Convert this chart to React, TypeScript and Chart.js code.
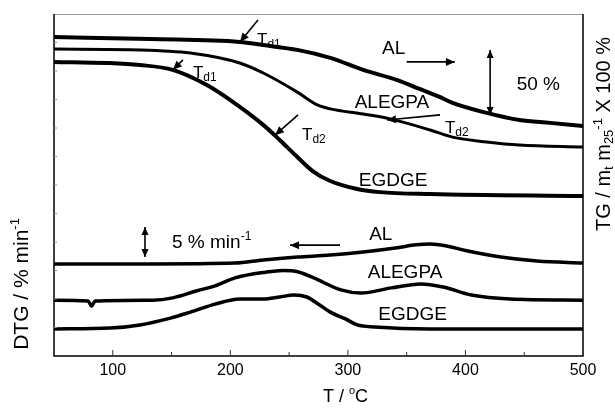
import React, { useEffect, useRef } from "react";
import { Chart, registerables } from "chart.js";
Chart.register(...registerables);

// ---- Data (T in °C, y in arbitrary stacked plot units) ----
const T_AL_TG = [50, 132, 208, 228, 257, 285, 313, 342, 361, 378, 389, 418, 446, 472, 500];
const Y_AL_TG = [11.19, 11.12, 11.02, 10.91, 10.74, 10.46, 10.04, 9.68, 9.37, 9.09, 8.88, 8.53, 8.28, 8.18, 8.07];

const T_ALEGPA_TG = [50, 124, 166, 208, 228, 257, 274, 285, 313, 336, 370, 389, 418, 446, 500];
const Y_ALEGPA_TG = [10.77, 10.74, 10.63, 10.28, 9.93, 9.26, 8.81, 8.67, 8.49, 8.32, 7.93, 7.68, 7.51, 7.40, 7.33];

const T_EGDGE_TG = [50, 95, 123, 151, 180, 200, 228, 242, 257, 270, 285, 308, 327, 370, 500];
const Y_EGDGE_TG = [10.32, 10.28, 10.21, 10.04, 9.51, 8.98, 8.11, 7.58, 6.98, 6.49, 6.14, 5.86, 5.75, 5.68, 5.61];

const T_AL_DTG = [50, 132, 204, 228, 257, 285, 313, 342, 358, 370, 383, 400, 430, 461, 500];
const Y_AL_DTG = [3.23, 3.23, 3.26, 3.37, 3.47, 3.54, 3.65, 3.8, 3.9, 3.93, 3.87, 3.7, 3.47, 3.33, 3.26];

const T_ALEGPA_DTG = [50, 79, 82, 85, 134, 151, 171, 187, 204, 230, 245, 258, 271, 294, 311, 337, 362, 381, 405, 438, 500];
const Y_ALEGPA_DTG = [1.96, 1.93, 1.75, 1.93, 1.96, 2.04, 2.28, 2.46, 2.74, 2.94, 3.0, 2.95, 2.74, 2.32, 2.21, 2.39, 2.53, 2.42, 2.14, 2.0, 1.96];

const T_EGDGE_DTG = [50, 98, 123, 149, 166, 187, 208, 228, 242, 254, 265, 276, 285, 298, 308, 323, 370, 500];
const Y_EGDGE_DTG = [0.95, 0.98, 1.09, 1.33, 1.54, 1.82, 2.0, 2.0, 2.07, 2.14, 2.07, 1.79, 1.54, 1.3, 1.09, 1.02, 0.95, 0.95];

const X_TICKS = [100, 200, 300, 400, 500];
const X_MINOR = [150, 250, 350, 450];
const Y_MINOR = [1, 2, 3, 4, 5, 6, 7, 8, 9, 10, 11];

const SERIES_NAMES = ["AL", "ALEGPA", "EGDGE"];

// ---- Annotation placement (data coordinates) ----
const NAME_LABELS = [
  { text: SERIES_NAMES[0], T: 339, v: 10.77 },
  { text: SERIES_NAMES[1], T: 337.5, v: 8.88 },
  { text: SERIES_NAMES[2], T: 338.4, v: 6.14 },
  { text: SERIES_NAMES[0], T: 328, v: 4.25 },
  { text: SERIES_NAMES[1], T: 348.6, v: 2.91 },
  { text: SERIES_NAMES[2], T: 355, v: 1.44 },
  { text: "50 %", T: 462, v: 9.51 },
];
const TD_LABELS = [
  { sub: "d1", T: 222.7, v: 10.91 },
  { sub: "d1", T: 168.2, v: 9.75 },
  { sub: "d2", T: 261, v: 7.58 },
  { sub: "d2", T: 382.6, v: 7.82 },
];
const ARROWS = [
  { a: [223.5, 11.79], b: [208.2, 11.02] },
  { a: [159.7, 10.39], b: [151.2, 10.04] },
  { a: [257.6, 8.46], b: [238, 7.75] },
  { a: [378.4, 8.46], b: [333.3, 8.28] },
  { a: [350, 10.32], b: [391, 10.32] },
  { a: [293.3, 3.89], b: [250.8, 3.89] },
];
const DOUBLE_ARROWS = [
  { T: 421, v1: 10.74, v2: 8.46 },
  { T: 127.4, v1: 4.53, v2: 3.47 },
];
const RATE_LABEL = { T: 150.4, v: 3.96 };

const FONT = '"Liberation Sans", Arial, Helvetica, sans-serif';
const f = (s: number) => `${s}px ${FONT}`;

type Seg = { t: string; size: number; dy?: number };
function drawRich(ctx: CanvasRenderingContext2D, segs: Seg[], x: number, y: number, center: boolean) {
  let w = 0;
  for (const s of segs) {
    ctx.font = f(s.size);
    w += ctx.measureText(s.t).width;
  }
  let cx = center ? x - w / 2 : x;
  ctx.textAlign = "left";
  for (const s of segs) {
    ctx.font = f(s.size);
    ctx.fillText(s.t, cx, y + (s.dy || 0));
    cx += ctx.measureText(s.t).width;
  }
}

function head(ctx: CanvasRenderingContext2D, x1: number, y1: number, x2: number, y2: number, len = 8, wid = 3.5) {
  const ang = Math.atan2(y2 - y1, x2 - x1);
  ctx.beginPath();
  ctx.moveTo(x2, y2);
  ctx.lineTo(x2 - len * Math.cos(ang) + wid * Math.sin(ang), y2 - len * Math.sin(ang) - wid * Math.cos(ang));
  ctx.lineTo(x2 - len * Math.cos(ang) - wid * Math.sin(ang), y2 - len * Math.sin(ang) + wid * Math.cos(ang));
  ctx.closePath();
  ctx.fill();
}

const decorPlugin = {
  id: "decor",
  afterDraw(chart: any) {
    const { ctx, chartArea: ca, scales } = chart;
    const xs = scales.x;
    const ys = scales.y;
    const px = (T: number) => xs.getPixelForValue(T);
    const py = (v: number) => ys.getPixelForValue(v);
    ctx.save();
    ctx.fillStyle = "#000";
    ctx.strokeStyle = "#000";

    // frame
    ctx.lineWidth = 1;
    ctx.strokeStyle = "#9a9a9a";
    ctx.beginPath();
    ctx.moveTo(ca.left, ca.top + 0.5);
    ctx.lineTo(ca.right, ca.top + 0.5);
    ctx.stroke();
    ctx.strokeStyle = "#000";
    ctx.lineWidth = 1.5;
    ctx.beginPath();
    ctx.moveTo(ca.left, ca.top);
    ctx.lineTo(ca.left, ca.bottom);
    ctx.lineTo(ca.right, ca.bottom);
    ctx.lineTo(ca.right, ca.top);
    ctx.stroke();

    // ticks
    ctx.lineWidth = 1;
    ctx.strokeStyle = "#333";
    ctx.beginPath();
    for (const t of X_TICKS) {
      ctx.moveTo(px(t), ca.bottom);
      ctx.lineTo(px(t), ca.bottom - 6);
    }
    for (const t of X_MINOR) {
      ctx.moveTo(px(t), ca.bottom);
      ctx.lineTo(px(t), ca.bottom - 4);
    }
    ctx.stroke();
    ctx.strokeStyle = "#888";
    ctx.beginPath();
    for (const v of Y_MINOR) {
      ctx.moveTo(ca.left, py(v));
      ctx.lineTo(ca.left + 3, py(v));
    }
    ctx.stroke();

    // series labels
    ctx.fillStyle = "#000";
    ctx.textBaseline = "middle";
    ctx.textAlign = "center";
    ctx.font = f(19);
    for (const l of NAME_LABELS) {
      ctx.fillText(l.text, px(l.T), py(l.v));
    }
    drawRich(ctx, [{ t: "5 % min", size: 19 }, { t: "-1", size: 12, dy: -6 }], px(RATE_LABEL.T), py(RATE_LABEL.v), false);

    // Td labels
    ctx.textBaseline = "alphabetic";
    for (const l of TD_LABELS) {
      drawRich(ctx, [{ t: "T", size: 17 }, { t: l.sub, size: 12, dy: 3 }], px(l.T), py(l.v), false);
    }

    // arrows
    ctx.lineWidth = 1.6;
    ctx.strokeStyle = "#000";
    for (const a of ARROWS) {
      const x1 = px(a.a[0]), y1 = py(a.a[1]), x2 = px(a.b[0]), y2 = py(a.b[1]);
      ctx.beginPath();
      ctx.moveTo(x1, y1);
      ctx.lineTo(x2, y2);
      ctx.stroke();
      head(ctx, x1, y1, x2, y2, 9, 4);
    }
    for (const d of DOUBLE_ARROWS) {
      const x = px(d.T), y1 = py(d.v1), y2 = py(d.v2);
      ctx.beginPath();
      ctx.moveTo(x, y1);
      ctx.lineTo(x, y2);
      ctx.stroke();
      head(ctx, x, y2, x, y1, 8, 3.5);
      head(ctx, x, y1, x, y2, 8, 3.5);
    }

    // axis titles
    ctx.textBaseline = "middle";
    drawRich(ctx, [{ t: "T / ", size: 18 }, { t: "o", size: 11, dy: -6 }, { t: "C", size: 18 }], px(298), 397, true);

    ctx.save();
    ctx.translate(22, 284);
    ctx.rotate(-Math.PI / 2);
    drawRich(ctx, [{ t: "DTG / % min", size: 21 }, { t: "-1", size: 13, dy: -7 }], 0, 0, true);
    ctx.restore();

    ctx.save();
    ctx.translate(604, 134);
    ctx.rotate(-Math.PI / 2);
    drawRich(
      ctx,
      [
        { t: "TG / m", size: 20 },
        { t: "t", size: 13, dy: 5 },
        { t: " m", size: 20 },
        { t: "25", size: 13, dy: 5 },
        { t: "-1", size: 13, dy: -6 },
        { t: " X 100 %", size: 20 },
      ],
      0,
      0,
      true
    );
    ctx.restore();

    ctx.restore();
  },
};

function toPts(xs: number[], ys: number[]) {
  return xs.map((x, i) => ({ x, y: ys[i] }));
}

export default function App() {
  const ref = useRef<HTMLCanvasElement | null>(null);
  useEffect(() => {
    if (!ref.current) return;
    const mk = (xs: number[], ys: number[], w: number) => ({
      data: toPts(xs, ys),
      borderColor: "#000",
      borderWidth: w,
      pointRadius: 0,
      fill: false,
      cubicInterpolationMode: "monotone" as const,
      borderCapStyle: "round" as const,
      borderJoinStyle: "round" as const,
    });
    const chart = new Chart(ref.current, {
      type: "line",
      data: {
        datasets: [
          mk(T_AL_TG, Y_AL_TG, 4),
          mk(T_ALEGPA_TG, Y_ALEGPA_TG, 3),
          mk(T_EGDGE_TG, Y_EGDGE_TG, 4),
          mk(T_AL_DTG, Y_AL_DTG, 3.5),
          mk(T_ALEGPA_DTG, Y_ALEGPA_DTG, 3.5),
          mk(T_EGDGE_DTG, Y_EGDGE_DTG, 3.5),
        ],
      },
      options: {
        animation: false,
        responsive: false,
        devicePixelRatio: 1,
        layout: { padding: { top: 14, left: 0, right: 0, bottom: 0 } },
        plugins: { legend: { display: false }, tooltip: { enabled: false } },
        scales: {
          x: {
            type: "linear",
            min: 50,
            max: 500,
            grid: { display: false, drawTicks: false },
            border: { display: false },
            afterBuildTicks: (s: any) => {
              s.ticks = X_TICKS.map((v) => ({ value: v }));
            },
            afterFit: (s: any) => {
              s.height = 54;
            },
            ticks: { color: "#000", font: { size: 16, family: FONT }, padding: 5, maxRotation: 0 },
          },
          y: {
            type: "linear",
            position: "left",
            min: 0,
            max: 12,
            grid: { display: false, drawTicks: false },
            border: { display: false },
            ticks: { display: false },
            afterFit: (s: any) => {
              s.width = 54;
            },
          },
          y2: {
            type: "linear",
            position: "right",
            min: 0,
            max: 12,
            grid: { display: false, drawTicks: false },
            border: { display: false },
            ticks: { display: false },
            afterFit: (s: any) => {
              s.width = 32;
            },
          },
        },
      },
      plugins: [decorPlugin],
    });
    return () => chart.destroy();
  }, []);
  return (
    <div style={{ position: "fixed", left: 0, top: 0, width: 615, height: 410, background: "#fff" }}>
      <canvas ref={ref} width={615} height={410} />
    </div>
  );
}
